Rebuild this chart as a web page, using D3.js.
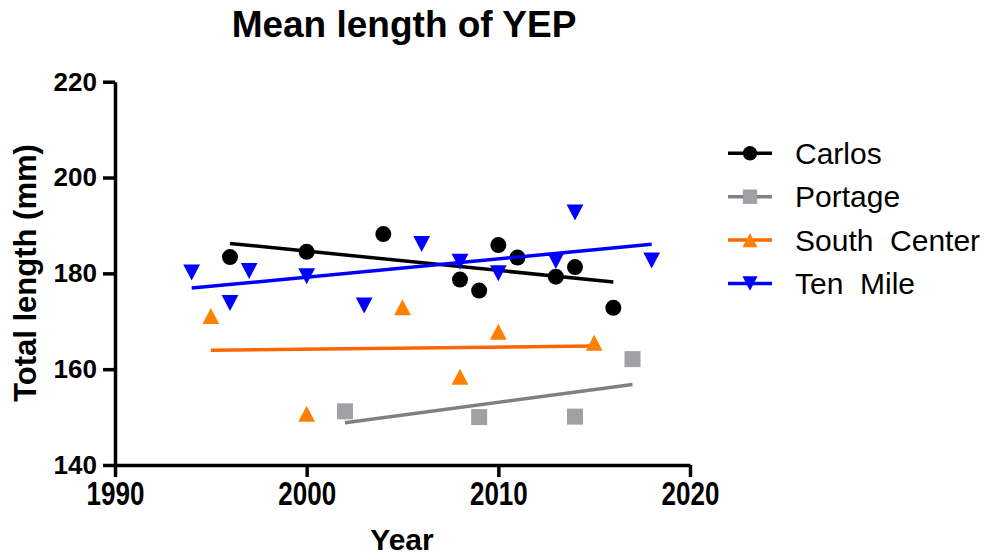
<!DOCTYPE html>
<html>
<head>
<meta charset="utf-8">
<script src="https://cdn.jsdelivr.net/npm/d3@7"></script>
<style>
  html, body { margin: 0; padding: 0; background: #fff; }
  svg { display: block; font-family: "Liberation Sans", Arial, sans-serif; }
</style>
</head>
<body>
<svg id="chart" width="990" height="560"></svg>
<script>
// Mean total length (mm) of yellow perch by sampling year, per lake
const carlosYears = [1996, 2000, 2004, 2008, 2009, 2010, 2011, 2013, 2014, 2016];
const carlosLength = [183.4, 184.5, 188.2, 178.7, 176.4, 185.9, 183.3, 179.3, 181.3, 172.8];

const portageYears = [2002, 2009, 2014, 2017];
const portageLength = [151.2, 150.0, 150.1, 162.1];

const southCenterYears = [1995, 2000, 2005, 2008, 2010, 2015];
const southCenterLength = [171.1, 150.7, 172.9, 158.4, 167.8, 165.5];

const tenMileYears = [1994, 1996, 1997, 2000, 2003, 2006, 2008, 2010, 2013, 2014, 2018];
const tenMileLength = [180.2, 173.8, 180.5, 179.4, 173.3, 186.1, 182.4, 180.0, 182.6, 192.7, 182.7];

const seriesNames = ["Carlos", "Portage", "South  Center", "Ten  Mile"];
const xTicks = [1990, 2000, 2010, 2020];
const yTicks = [140, 160, 180, 200, 220];

const series = [
  { name: seriesNames[0], years: carlosYears, values: carlosLength, shape: "circle", line: "#000000", fill: "#000000" },
  { name: seriesNames[1], years: portageYears, values: portageLength, shape: "square", line: "#808080", fill: "#A0A0A6" },
  { name: seriesNames[2], years: southCenterYears, values: southCenterLength, shape: "up", line: "#FF6600", fill: "#FF8000" },
  { name: seriesNames[3], years: tenMileYears, values: tenMileLength, shape: "down", line: "#0000FF", fill: "#0000FF" }
];

const svg = d3.select("#chart");
const x = d3.scaleLinear().domain([1990, 2020]).range([115, 690]);
const y = d3.scaleLinear().domain([140, 220]).range([465, 81.7]);

// least-squares straight line through each series
function fit(xs, ys) {
  const mx = d3.mean(xs), my = d3.mean(ys);
  let sxy = 0, sxx = 0;
  xs.forEach((v, i) => { sxy += (v - mx) * (ys[i] - my); sxx += (v - mx) * (v - mx); });
  const b = sxy / sxx, a = my - b * mx;
  const x0 = d3.min(xs), x1 = d3.max(xs);
  return [[x0, a + b * x0], [x1, a + b * x1]];
}

function marker(g, shape, cx, cy, fill, s) {
  if (shape === "circle") {
    g.append("circle").attr("cx", cx).attr("cy", cy).attr("r", 8 * s).attr("fill", fill);
  } else if (shape === "square") {
    g.append("rect").attr("x", cx - 8 * s).attr("y", cy - 8 * s)
      .attr("width", 16 * s).attr("height", 16 * s).attr("fill", fill);
  } else {
    const w = 8.4 * s, h = 8 * s;
    const pts = shape === "up"
      ? [[cx - w, cy + h], [cx + w, cy + h], [cx, cy - h]]
      : [[cx - w, cy - h], [cx + w, cy - h], [cx, cy + h]];
    g.append("path").attr("d", d3.line()(pts) + "Z").attr("fill", fill);
  }
}

const lineGen = d3.line().x(d => x(d[0])).y(d => y(d[1]));

// axes
const yAxis = svg.append("g").attr("transform", `translate(${x(1990)},0)`)
  .call(d3.axisLeft(y).tickValues(yTicks).tickFormat(d3.format("d")).tickSize(12).tickSizeOuter(0).tickPadding(6));
const xAxis = svg.append("g").attr("transform", `translate(0,${y(140)})`)
  .call(d3.axisBottom(x).tickValues(xTicks).tickFormat(d3.format("d")).tickSize(12).tickSizeOuter(0).tickPadding(4));

[yAxis, xAxis].forEach(a => {
  a.select(".domain").attr("stroke", "#000").attr("stroke-width", 3.5);
  a.selectAll(".tick line").attr("stroke", "#000").attr("stroke-width", 3.5);
  a.selectAll(".tick text").attr("fill", "#000").attr("font-weight", "bold")
    .attr("font-family", "'Liberation Sans', Arial, sans-serif");
});
yAxis.selectAll(".tick text").attr("font-size", 26);
// bottom tick labels are drawn tall and narrow
xAxis.selectAll(".tick text").attr("font-size", 26).attr("dy", null).attr("y", 0)
  .attr("transform", "translate(0,16) scale(1,1.25)").attr("dominant-baseline", "hanging");

// series: trend line then points
series.forEach(s => {
  const g = svg.append("g");
  g.append("path").attr("d", lineGen(fit(s.years, s.values)))
    .attr("fill", "none").attr("stroke", s.line).attr("stroke-width", 3.5);
  s.years.forEach((yr, i) => marker(g, s.shape, x(yr), y(s.values[i]), s.fill, 1));
});

// titles
svg.append("text").attr("x", 404).attr("y", 37).attr("text-anchor", "middle")
  .attr("font-size", 37).attr("font-weight", "bold").text("Mean length of YEP");
svg.append("text").attr("x", 402).attr("y", 550).attr("text-anchor", "middle")
  .attr("font-size", 30).attr("font-weight", "bold").text("Year");
svg.append("text").attr("transform", "translate(36,273) rotate(-90)").attr("text-anchor", "middle")
  .attr("font-size", 31).attr("font-weight", "bold").text("Total length (mm)");

// legend
const legend = svg.append("g");
series.forEach((s, i) => {
  const cy = 153.3 + i * 43.4;
  legend.append("line").attr("x1", 728).attr("x2", 772).attr("y1", cy).attr("y2", cy)
    .attr("stroke", s.line).attr("stroke-width", 3.5);
  marker(legend, s.shape, 750, cy, s.fill, 0.9);
  legend.append("text").attr("x", 795).attr("y", cy + 10.5).attr("font-size", 30)
    .style("white-space", "pre").attr("fill", "#000").text(s.name);
});
</script>
</body>
</html>
